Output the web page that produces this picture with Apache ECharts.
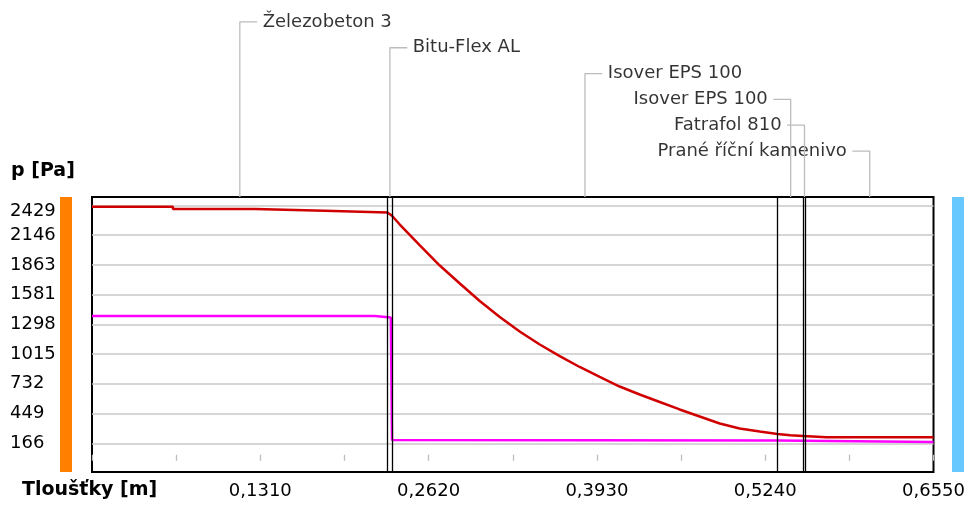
<!DOCTYPE html>
<html>
<head>
<meta charset="utf-8">
<script src="https://cdn.jsdelivr.net/npm/echarts@6/dist/echarts.min.js"></script>
<style>html,body{margin:0;padding:0;background:#fff}#c{width:968px;height:508px}</style>
</head>
<body>
<div id="c"></div>
<script>
// ---- data ----
const layerNames = ['Železobeton 3', 'Bitu-Flex AL', 'Isover EPS 100', 'Isover EPS 100', 'Fatrafol 810', 'Prané říční kamenivo'];
const layerThickness = [0.23, 0.0035, 0.30, 0.02, 0.0015, 0.10];
const labelSide = ['right', 'right', 'right', 'left', 'left', 'left'];

const yTickValues = [166, 449, 732, 1015, 1298, 1581, 1863, 2146, 2429];
const xTickValues = [0.131, 0.262, 0.393, 0.524, 0.655];
const xTickLabels = ['0,1310', '0,2620', '0,3930', '0,5240', '0,6550'];

// saturated vapour pressure (red)
const psatX = [0, 0.063, 0.063, 0.127, 0.127, 0.181, 0.181, 0.23, 0.2335, 0.2396, 0.2552, 0.2707, 0.2863, 0.3018, 0.3174, 0.3329, 0.3485, 0.3641, 0.3796, 0.3952, 0.4107, 0.4263, 0.4419, 0.4574, 0.4730, 0.4886, 0.5041, 0.5197, 0.5335, 0.5435, 0.5535, 0.555, 0.5718, 0.655];
const psatY = [2417, 2417, 2395, 2395, 2379, 2379, 2364, 2362, 2331, 2247, 2048, 1857, 1686, 1520, 1368, 1230, 1106, 996, 892, 797, 706, 630, 559, 488, 421, 354, 307, 278, 254, 242, 235, 234, 223, 223];
// partial vapour pressure (magenta)
const pX = [0, 0.2201, 0.2201, 0.2326, 0.2335, 0.5335, 0.5535, 0.555, 0.655];
const pY = [1377, 1377, 1362, 1362, 197, 192, 190, 178, 178];

// ---- layout ----
const GL = 92, GT = 197, GW = 842, GH = 275;
const xMax = 0.655, yMin = -107, yMax = 2509;
const rowMin = -0.85, rowMax = 6.78, leaderDx = 0.0135;

const edges = [];
const mids = [];
let acc = 0;
layerThickness.forEach((t, i) => {
  mids.push(acc + t / 2);
  acc += t;
  if (i < layerThickness.length - 1) edges.push(acc);
});

const zip = (a, b) => a.map((v, i) => [v, b[i]]);
const FONT = 'DejaVu Sans';

const series = [
  {
    type: 'line', xAxisIndex: 0, yAxisIndex: 0, data: zip(psatX, psatY),
    showSymbol: false, symbol: 'none', lineStyle: { color: '#d00000', width: 2.5 }, silent: true, z: 3,
    markLine: {
      silent: true, symbol: ['none', 'none'], label: { show: false }, precision: 6,
      lineStyle: { color: '#000', width: 1.3, type: 'solid' },
      data: edges.map(e => ({ xAxis: e }))
    }
  },
  {
    type: 'line', xAxisIndex: 0, yAxisIndex: 0, data: zip(pX, pY),
    showSymbol: false, symbol: 'none', lineStyle: { color: '#ff00ff', width: 2.5 }, silent: true, z: 4
  }
];

layerNames.forEach((name, i) => {
  const dir = labelSide[i] === 'right' ? 1 : -1;
  series.push({
    type: 'line', xAxisIndex: 1, yAxisIndex: 1, silent: true, showSymbol: false, symbol: 'none',
    lineStyle: { color: '#bcbcbc', width: 1.3 },
    data: [[mids[i], rowMax], [mids[i], i], [mids[i] + dir * leaderDx, i]]
  });
  series.push({
    type: 'scatter', xAxisIndex: 1, yAxisIndex: 1, silent: true, symbolSize: 1,
    itemStyle: { color: 'rgba(0,0,0,0)' },
    label: { show: true, position: labelSide[i], distance: 5, formatter: name, color: '#000', fontFamily: FONT, fontSize: 18 },
    data: [[mids[i] + dir * leaderDx, i]]
  });
});

const chart = echarts.init(document.getElementById('c'), null, { renderer: 'canvas' });
chart.setOption({
  backgroundColor: '#fff',
  animation: false,
  grid: [
    { left: GL, top: GT, width: GW, height: GH, show: true, borderColor: '#000', borderWidth: 2, backgroundColor: 'transparent', containLabel: false },
    { left: GL, top: 0, width: GW, height: GT, show: false, containLabel: false }
  ],
  xAxis: [
    {
      type: 'value', gridIndex: 0, min: 0, max: xMax, interval: 0.0655,
      axisLine: { show: false },
      axisTick: { show: true, inside: true, length: 6, lineStyle: { color: '#bdbdbd', width: 1.3 } },
      splitLine: { show: false },
      axisLabel: {
        customValues: xTickValues, margin: 10, color: '#000', fontFamily: FONT, fontSize: 18,
        formatter: v => {
          const i = xTickValues.findIndex(t => Math.abs(t - v) < 1e-6);
          return i >= 0 ? xTickLabels[i] : '';
        }
      }
    },
    { type: 'value', gridIndex: 1, min: 0, max: xMax, show: false }
  ],
  yAxis: [
    {
      type: 'value', gridIndex: 0, min: yMin, max: yMax,
      axisLine: { show: false },
      axisTick: { show: false, customValues: yTickValues },
      splitLine: { show: true, lineStyle: { color: '#c8c8c8', width: 1.5 } },
      axisLabel: {
        customValues: yTickValues, align: 'left', margin: 82, color: '#000', fontFamily: FONT, fontSize: 18,
        formatter: v => v === yTickValues[yTickValues.length - 1] ? '{t|' + v + '}' : String(v),
        rich: { t: { padding: [12, 0, 0, 0], fontFamily: FONT, fontSize: 18, color: '#000' } }
      }
    },
    { type: 'value', gridIndex: 1, min: rowMin, max: rowMax, inverse: true, show: false }
  ],
  graphic: [
    { type: 'rect', left: 60, top: GT, shape: { width: 12, height: GH }, style: { fill: '#ff8000' }, silent: true },
    { type: 'rect', left: 952, top: GT, shape: { width: 12, height: GH }, style: { fill: '#66c8ff' }, silent: true },
    { type: 'text', left: 11, top: 162, style: { text: 'p [Pa]', font: 'bold 19px "DejaVu Sans"', fill: '#000' } },
    { type: 'text', left: 22, top: 481, style: { text: 'Tloušťky [m]', font: 'bold 19px "DejaVu Sans"', fill: '#000' } }
  ],
  series: series
});
</script>
</body>
</html>
